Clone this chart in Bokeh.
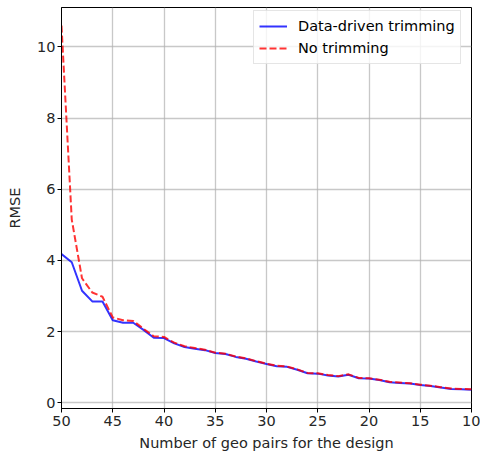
from bokeh.plotting import figure
from bokeh.models import Range1d, FixedTicker, Legend, LegendItem
from bokeh.embed import file_html
from bokeh.resources import INLINE

# Data
n_pairs = [50, 49, 48, 47, 46, 45, 44, 43, 42, 41, 40, 39, 38, 37, 36, 35, 34, 33, 32, 31,
           30, 29, 28, 27, 26, 25, 24, 23, 22, 21, 20, 19, 18, 17, 16, 15, 14, 13, 12, 11, 10]
rmse_trimmed = [4.18, 3.95, 3.15, 2.85, 2.85, 2.32, 2.25, 2.25, 2.05, 1.83, 1.82, 1.67, 1.57,
                1.52, 1.48, 1.40, 1.37, 1.29, 1.24, 1.16, 1.09, 1.03, 1.01, 0.93, 0.83, 0.82,
                0.77, 0.74, 0.79, 0.69, 0.68, 0.64, 0.58, 0.56, 0.54, 0.50, 0.47, 0.43, 0.39,
                0.38, 0.37]
rmse_untrimmed = [10.6, 5.15, 3.5, 3.1, 2.98, 2.4, 2.32, 2.3, 2.08, 1.87, 1.85, 1.69, 1.59,
                  1.54, 1.49, 1.41, 1.38, 1.30, 1.25, 1.17, 1.10, 1.04, 1.02, 0.94, 0.84, 0.83,
                  0.78, 0.75, 0.80, 0.70, 0.69, 0.65, 0.59, 0.57, 0.55, 0.51, 0.48, 0.44, 0.40,
                  0.39, 0.38]
x_ticks = [50, 45, 40, 35, 30, 25, 20, 15, 10]
y_ticks = [0, 2, 4, 6, 8, 10]
series_labels = ["Data-driven trimming", "No trimming"]
x_title = "Number of geo pairs for the design"
y_title = "RMSE"

FONT = "DejaVu Sans"
FS = "14.5px"
TXT = "#262626"

p = figure(width=480, height=453, output_backend="svg", toolbar_location=None,
           x_range=Range1d(50, 10), y_range=Range1d(-0.16, 11.11),
           min_border_top=7, min_border_right=9, min_border_left=61, min_border_bottom=45)

p.background_fill_color = "white"
p.border_fill_color = "white"
p.outline_line_color = "black"
p.outline_line_width = 1

for ax in (p.xaxis[0], p.yaxis[0]):
    ax.axis_line_color = "black"
    ax.major_tick_line_color = "black"
    ax.major_tick_out = 4
    ax.major_tick_in = 0
    ax.minor_tick_line_color = None
    ax.major_label_text_font = FONT
    ax.major_label_text_font_size = FS
    ax.major_label_text_color = TXT
    ax.axis_label_text_font = FONT
    ax.axis_label_text_font_size = FS
    ax.axis_label_text_font_style = "normal"
    ax.axis_label_text_color = TXT

p.xaxis.ticker = FixedTicker(ticks=x_ticks)
p.yaxis.ticker = FixedTicker(ticks=y_ticks)
p.xaxis.axis_label = x_title
p.yaxis.axis_label = y_title
p.xaxis.major_label_standoff = 3
p.xaxis.axis_label_standoff = 6
p.yaxis.major_label_standoff = 2
p.yaxis.axis_label_standoff = 11

p.xgrid.grid_line_color = "#b0b0b0"
p.ygrid.grid_line_color = "#b0b0b0"
p.xgrid.grid_line_alpha = 0.7
p.ygrid.grid_line_alpha = 0.7
p.xgrid.grid_line_width = 1.3
p.ygrid.grid_line_width = 1.3

r1 = p.line(n_pairs, rmse_trimmed, line_color="blue", line_width=2, line_alpha=0.8)
r2 = p.line(n_pairs, rmse_untrimmed, line_color="red", line_width=2, line_alpha=0.8,
            line_dash="7 3")

legend = Legend(items=[LegendItem(label=series_labels[0], renderers=[r1]),
                       LegendItem(label=series_labels[1], renderers=[r2])],
                location=(192, 344))
legend.label_text_font = FONT
legend.label_text_font_size = FS
legend.label_text_color = "black"
legend.glyph_width = 28
legend.glyph_height = 20
legend.label_height = 20
legend.label_standoff = 11
legend.spacing = 2
legend.padding = 5
legend.margin = 0
legend.border_line_color = "#cccccc"
legend.border_line_width = 1
legend.background_fill_alpha = 0.8
p.add_layout(legend)

open("out.html", "w").write(file_html(p, INLINE))
